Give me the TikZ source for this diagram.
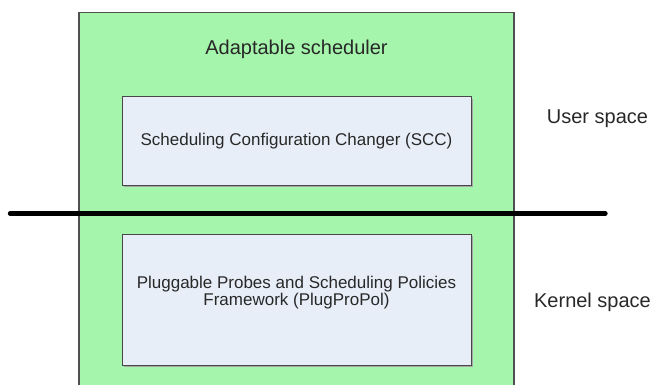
\documentclass[tikz,border=0pt]{standalone}
\usepackage{fontspec}
\setmainfont{Liberation Sans}
\definecolor{schedgreen}{RGB}{166,245,172}
\definecolor{boxfill}{RGB}{232,238,248}
\definecolor{edgegray}{RGB}{80,80,80}
\definecolor{txtgray}{RGB}{40,40,40}
\tikzset{
  outerbox/.style={draw=edgegray, line width=1.3pt, fill=schedgreen},
  innerbox/.style={draw=edgegray!90!black, line width=1pt, fill=boxfill},
  boxshadow/.style={fill=black!35},
  label/.style={text=txtgray, font=\fontsize{17}{16.5}\selectfont, align=center, inner sep=0pt},
  title/.style={text=txtgray, font=\fontsize{20}{22}\selectfont, inner sep=0pt},
  divider/.style={line width=4.3pt, line cap=round, black}
}
\begin{document}
\begin{tikzpicture}[x=1pt, y=-1pt]
  \useasboundingbox (0,0) rectangle (656,385);
  \begin{scope}
    \clip (0,0) rectangle (656,385);
    % adaptable scheduler container (runs off the bottom edge)
    \draw[outerbox] (79,12.5) rectangle (514,400);
  \end{scope}
  \node[title] (title) at (296.5,49) {Adaptable scheduler};

  % user-space component
  \fill[boxshadow] (124,99) rectangle (472.5,186.5);
  \draw[innerbox] (122.5,97) rectangle (471,185);
  \node[label] (scc) at (296.5,141.5) {Scheduling Configuration Changer (SCC)};

  % kernel-space component
  \fill[boxshadow] (124,236) rectangle (472.5,366.5);
  \draw[innerbox] (122.5,234) rectangle (471,365);
  \node[label] (ppp) at (296.5,292.5) {Pluggable Probes and Scheduling Policies\\Framework (PlugProPol)};

  % user / kernel boundary
  \coordinate (divL) at (10,213.5);
  \coordinate (divR) at (605.5,213.5);
  \draw[divider] (divL) -- (divR);

  \node[title] (user) at (597.5,118.5) {User space};
  \node[title] (kernel) at (592.5,302.5) {Kernel space};
\end{tikzpicture}
\end{document}
